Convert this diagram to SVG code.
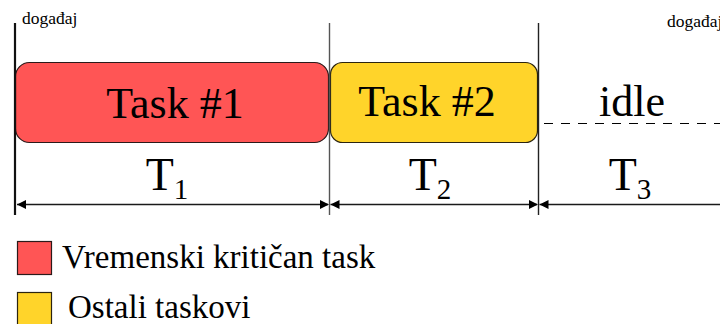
<svg xmlns="http://www.w3.org/2000/svg" width="720" height="324" viewBox="0 0 720 324">
  <style>
    .serif { font-family: "Liberation Serif", "DejaVu Serif", serif; fill: #000; }
    .task { font-size: 44px; text-anchor: middle; }
    .dur { font-size: 46px; text-anchor: middle; }
    .sub { font-size: 29px; }
    .evt { font-size: 17.5px; }
    .legend { font-size: 33px; }
    .marker-line { stroke: #1a1a1a; stroke-width: 1.5; fill: none; }
    .crit { fill: #ff5555; stroke: #2b1a1a; stroke-width: 1.2; }
    .other { fill: #ffd42a; stroke: #2b2410; stroke-width: 1.2; }
  </style>
  <defs>
    <marker id="arr" viewBox="0 0 10 10" refX="10" refY="5" markerWidth="10" markerHeight="9" markerUnits="userSpaceOnUse" orient="auto">
      <path d="M0,0 L10,5 L0,10 z" fill="#000"/>
    </marker>
  </defs>

  <rect width="720" height="324" fill="#fff"/>

  <!-- event labels -->
  <text class="serif evt" x="22" y="24">događaj</text>
  <text class="serif evt" x="667" y="27">događaj</text>

  <!-- tasks -->
  <g id="task1">
    <rect class="crit" x="15.5" y="62.5" width="313" height="80" rx="14"/>
    <text class="serif task" x="175" y="118">Task #1</text>
  </g>
  <g id="task2">
    <rect class="other" x="330.5" y="62.5" width="207" height="80" rx="12"/>
    <text class="serif task" x="427" y="116">Task #2</text>
  </g>
  <g id="idle">
    <text class="serif task" x="632" y="116">idle</text>
    <line x1="544" y1="123.5" x2="720" y2="123.5" stroke="#000" stroke-width="1.2" stroke-dasharray="9,8"/>
  </g>

  <!-- connectors: event markers and duration arrows -->
  <g id="connectors">
    <line x1="15" y1="23" x2="15" y2="215" stroke="#111" stroke-width="2.2"/>
    <line x1="329.5" y1="23" x2="329.5" y2="215" stroke="#555" stroke-width="1.4"/>
    <line x1="538.5" y1="23" x2="538.5" y2="215" stroke="#222" stroke-width="1.4"/>
    <line x1="328" y1="204.5" x2="17" y2="204.5" class="marker-line" marker-end="url(#arr)"/>
    <line x1="20" y1="204.5" x2="329" y2="204.5" class="marker-line" marker-end="url(#arr)" stroke-opacity="0"/>
    <line x1="537" y1="204.5" x2="330.5" y2="204.5" class="marker-line" marker-end="url(#arr)"/>
    <line x1="332" y1="204.5" x2="538" y2="204.5" class="marker-line" marker-end="url(#arr)" stroke-opacity="0"/>
    <line x1="720" y1="204.5" x2="539.5" y2="204.5" class="marker-line" marker-end="url(#arr)"/>
  </g>

  <!-- durations -->
  <text class="serif dur" x="167" y="190">T<tspan class="sub" dy="9">1</tspan></text>
  <text class="serif dur" x="430" y="190">T<tspan class="sub" dy="9">2</tspan></text>
  <text class="serif dur" x="630" y="190">T<tspan class="sub" dy="9">3</tspan></text>

  <!-- legend -->
  <g id="legend-crit">
    <rect class="crit" x="17.5" y="241.5" width="34" height="33"/>
    <text class="serif legend" x="62" y="268">Vremenski kritičan task</text>
  </g>
  <g id="legend-other">
    <rect class="other" x="17.5" y="292.5" width="34" height="35"/>
    <text class="serif legend" x="68" y="318">Ostali taskovi</text>
  </g>
</svg>
